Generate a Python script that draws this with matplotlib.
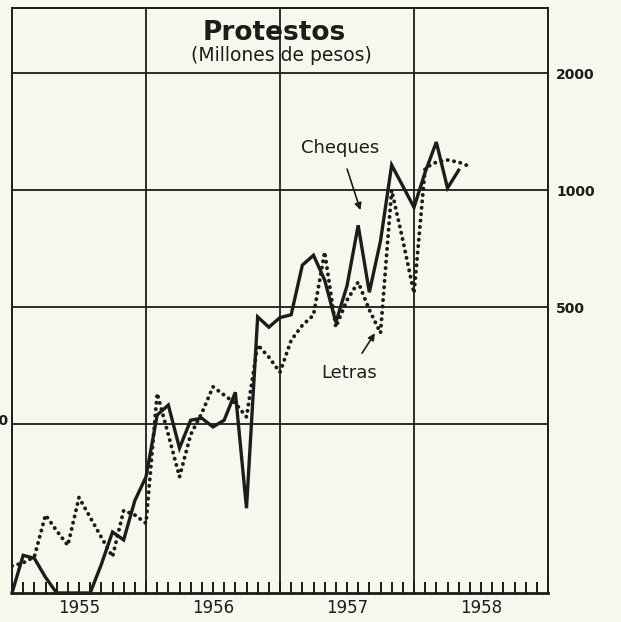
import numpy as np
import matplotlib
matplotlib.use("Agg")
import matplotlib.pyplot as plt
import matplotlib.transforms as mtransforms

# monthly values, x = months since start of 1955 (millones de pesos)
months_cheques = list(range(0, 41))
cheques = [92, 115, 113, 101, 92, 92, 92, 92, 109, 132, 126, 159, 183,
           264, 280, 217, 256, 259, 246, 256, 302, 152, 472, 444, 470,
           478, 641, 680, 587, 457, 567, 812, 546, 740, 1160, 1024, 903,
           1112, 1329, 1012, 1125]

months_letras = list(range(0, 42))
letras = [108, 110, 114, 146, 133, 122, 162, 144, 128, 114, 150, 146, 139,
          300, 235, 183, 235, 267, 312, 297, 283, 261, 400, 372, 340,
          411, 449, 477, 693, 444, 521, 580, 492, 429, 1000, 743, 543,
          1140, 1180, 1195, 1180, 1150]

years = ["1955", "1956", "1957", "1958"]
year_pos = [6, 18, 30, 42]
ytick_vals = [500, 1000, 2000]
grid_vals = [250, 500, 1000, 2000]

YMIN, YMAX = 92, 2940
INK = "#1c1c1a"
PAPER = "#f8f7ee"

plt.rcParams['font.family'] = ['DejaVu Sans']

fig = plt.figure(figsize=(6.21, 6.22), dpi=100, facecolor=PAPER)
ax = fig.add_axes([12/621, 1-593/622, 536/621, 585/622])
ax.set_facecolor(PAPER)
ax.set_yscale('log')
ax.set_ylim(YMIN, YMAX)
ax.set_xlim(0, 48)

for v in grid_vals:
    ax.axhline(v, color=INK, lw=1.3, zorder=1)
for x in (12, 24, 36):
    ax.axvline(x, color=INK, lw=1.3, zorder=1)

for s in ax.spines.values():
    s.set_color(INK)
    s.set_linewidth(1.4)
ax.spines['bottom'].set_linewidth(2)

ax.plot(months_cheques, np.maximum(cheques, YMIN), color=INK, lw=2.4,
        solid_joinstyle='miter', zorder=3, clip_on=False)
ax.plot(months_letras, np.maximum(letras, YMIN), color=INK, lw=2.8,
        linestyle=(0, (0.05, 1.6)), dash_capstyle='round', zorder=3)

# monthly ticks along the bottom
ax.set_xticks(range(0, 49))
ax.set_xticklabels([])
ax.tick_params(axis='x', which='major', direction='in', length=8,
               width=1.4, color=INK)

trans = mtransforms.blended_transform_factory(ax.transData, fig.transFigure)
for x, lab in zip(year_pos, years):
    ax.text(x, 1-608/622, lab, transform=trans, ha='center', va='center',
            fontsize=12, color=INK)

ax.yaxis.tick_right()
ax.set_yticks(ytick_vals)
ax.set_yticklabels([str(v) for v in ytick_vals], fontsize=10,
                   fontweight='bold', color=INK)
ax.yaxis.set_minor_locator(matplotlib.ticker.NullLocator())
ax.tick_params(axis='y', which='major', length=0, pad=6)

# left-hand label, mostly cut off by the page edge as in the scan
fig.text(0.014, 1-421/622, "250", ha='right', va='center', fontsize=10,
         fontweight='bold', color=INK)

ax.text(0.49, 0.958, "Protestos", transform=ax.transAxes, ha='center',
        va='center', fontsize=19, fontweight='bold', color=INK)
ax.text(0.503, 0.919, "(Millones de pesos)", transform=ax.transAxes,
        ha='center', va='center', fontsize=13.5, color=INK)

ax.annotate("Cheques", xy=(31.2, 1000*2**(-20/117)), xytext=(29.4, 1000*2**(42/117)),
            ha='center', va='center', fontsize=13, color=INK,
            arrowprops=dict(arrowstyle='-|>', color=INK, lw=1.2,
                            mutation_scale=10, shrinkA=7, shrinkB=0))
ax.annotate("Letras", xy=(32.5, 500*2**(-26/117)), xytext=(30.2, 500*2**(-66/117)),
            ha='center', va='center', fontsize=13, color=INK,
            arrowprops=dict(arrowstyle='-|>', color=INK, lw=1.2,
                            mutation_scale=10, shrinkA=7, shrinkB=0))

fig.savefig("out.png", dpi=100, facecolor=PAPER)
